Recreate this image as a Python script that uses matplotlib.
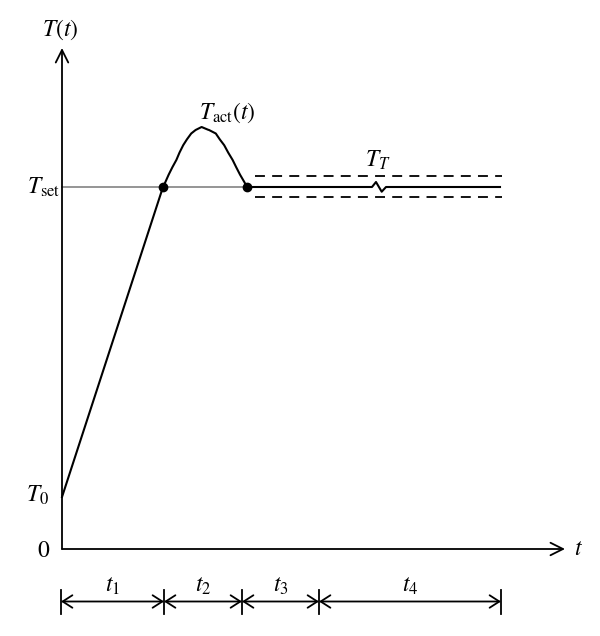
import matplotlib
matplotlib.use("Agg")
import matplotlib.pyplot as plt

plt.rcParams["mathtext.fontset"] = "stix"
plt.rcParams["font.family"] = ["STIXGeneral", "DejaVu Serif"]

# 示意图数据 (任意单位, 原点为坐标轴交点)
T0 = 52
T_SET = 362
T_AXIS_END = 501
T_AXIS_LEN = 503

# 升温段
ramp_t = [0, 101]
ramp_T = [T0, T_SET]

# 超调段 T_act(t)
over_t = [101, 103.4, 106.7, 110.4, 114.4, 117.5, 121.2, 124.9, 129.2, 133.6, 139.6,
          146.0, 147.0, 153.8, 157.8, 162.2, 166.2, 170.6, 174.2, 178.0, 182.3, 185]
over_T = [362, 367, 374.4, 381.8, 389.1, 396.4, 403.8, 409.6, 415.5, 419, 422,
          419.3, 419.0, 415.5, 409.6, 403.8, 396.4, 389.1, 381.8, 374.4, 367, 362]

# 保温段 (含折断符号)
hold_t = [185, 310, 314, 319.7, 324, 438]
hold_T = [362, 362, 367, 357.3, 362, 362]

# 容差带 T_T
band_t = [193, 440]
band_upper = 373.3
band_lower = 352.3

# 标记点
dot_t = [101, 185]
dot_T = [T_SET, T_SET]

# 时间段分界 (底部尺寸标注)
seg_bounds = [-1, 102, 180, 257, 439]
seg_labels = ["$t_1$", "$t_2$", "$t_3$", "$t_4$"]
dim_y = -52.5

fig = plt.figure(figsize=(6.0, 6.36), dpi=100)
ax = fig.add_axes([0, 0, 1, 1])
ax.set_xlim(-62, 538)
ax.set_ylim(-87, 549)
ax.axis("off")

# 坐标轴
arrow = {"arrowstyle": "->,head_length=0.9,head_width=0.45", "lw": 1.3, "color": "black",
         "shrinkA": 0, "shrinkB": 0}
ax.annotate("", xy=(0, T_AXIS_END), xytext=(0, 0), arrowprops=arrow)
ax.annotate("", xy=(T_AXIS_LEN, 0), xytext=(0, 0), arrowprops=arrow)

# 设定温度线 (灰色)
ax.plot([0, over_t[-1]], [T_SET, T_SET], color="#8c8c8c", lw=1.3)

# 曲线
ax.plot(ramp_t, ramp_T, color="black", lw=1.5, solid_joinstyle="round")
ax.plot(over_t, over_T, color="black", lw=1.5, solid_joinstyle="round")
ax.plot(hold_t, hold_T, color="black", lw=1.5)

# 容差带
for y in (band_upper, band_lower):
    ax.plot(band_t, [y, y], color="black", lw=1.3, dashes=(5.5, 4))

ax.scatter(dot_t, dot_T, s=36, color="black", zorder=5)

# 标签
fs = 17
ax.text(-2, 519, "$T(t)$", fontsize=fs, ha="center", va="center")
ax.text(-18, T_SET, r"$T_{\mathrm{set}}$", fontsize=fs, ha="center", va="center")
ax.text(-24, 54, "$T_0$", fontsize=fs, ha="center", va="center")
ax.text(-18, -2, "$0$", fontsize=fs, ha="center", va="center")
ax.text(516, 0, "$t$", fontsize=fs, ha="center", va="center")
ax.text(165, 436, r"$T_{\mathrm{act}}(t)$", fontsize=fs, ha="center", va="center")
ax.text(316, 389, "$T_T$", fontsize=fs, ha="center", va="center")

# 底部尺寸标注
dim_arrow = {"arrowstyle": "<->,head_length=0.7,head_width=0.45", "lw": 1.3,
             "color": "black", "shrinkA": 0, "shrinkB": 0}
for x in seg_bounds:
    ax.plot([x, x], [dim_y - 12, dim_y + 12], color="black", lw=1.3)
for i, lab in enumerate(seg_labels):
    x0, x1 = seg_bounds[i], seg_bounds[i + 1]
    ax.annotate("", xy=(x1, dim_y), xytext=(x0, dim_y), arrowprops=dim_arrow)
    ax.text((x0 + x1) / 2, dim_y + 15, lab, fontsize=fs, ha="center", va="center")

fig.savefig("out.png", dpi=100, facecolor="white")
